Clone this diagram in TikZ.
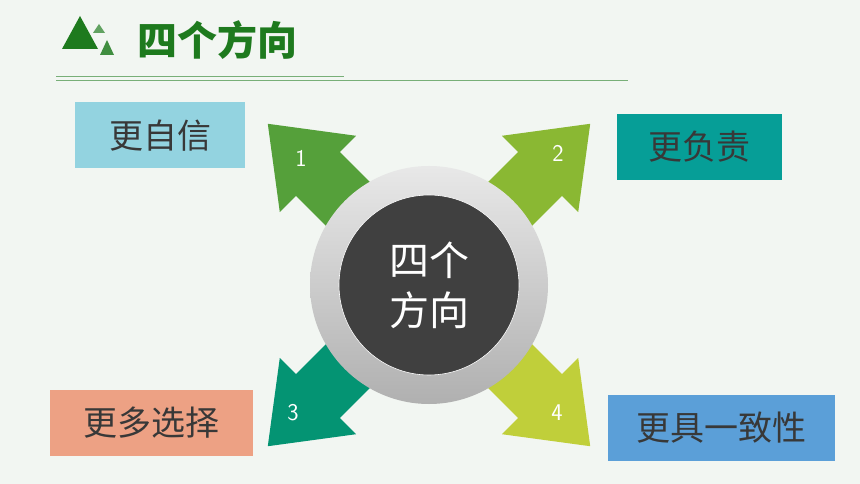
\documentclass[tikz,border=0pt]{standalone}
\usepackage{fontspec}
\newfontfamily\cjk{Noto Sans CJK SC}
\usetikzlibrary{calc}
\definecolor{bg}{HTML}{F2F6F2}
\definecolor{ttl}{HTML}{1E7A1E}
\definecolor{arA}{HTML}{55A03A}
\definecolor{arB}{HTML}{8AB833}
\definecolor{arC}{HTML}{049473}
\definecolor{arD}{HTML}{C0CF3A}
\definecolor{bxA}{HTML}{93D3E0}
\definecolor{bxB}{HTML}{069E97}
\definecolor{bxC}{HTML}{EDA184}
\definecolor{bxD}{HTML}{5B9FD8}
\tikzset{
  tagbox/.style={minimum height=66pt,inner sep=0pt,text=black!78,font=\cjk\fontsize{34}{36}\selectfont},
  numlbl/.style={text=white,font=\fontsize{24}{26}\selectfont\sffamily}
}
\begin{document}
\begin{tikzpicture}[x=1pt,y=-1pt]
\fill[bg] (0,0) rectangle (860,484);
\useasboundingbox (0,0) rectangle (860,484);
% title
\fill[ttl] (62,49) -- (80,16) -- (98,49) -- cycle;
\fill[ttl!70] (93,33) -- (99,24) -- (105,33) -- cycle;
\fill[ttl!85] (100,55) -- (107,40) -- (114,55) -- cycle;
\node[anchor=west,text=ttl,font=\cjk\bfseries\fontsize{40}{42}\selectfont] (title) at (134,40) {四个方向};
\draw[ttl!60,line width=0.8pt] (56,76) -- (344,76);
\draw[ttl!60,line width=0.8pt] (56,80) -- (628,80);
% arrows
\coordinate (c) at (429,285);
\foreach \ang/\col/\num [count=\i] in {225/arA/1,315/arB/2,135/arC/3,45/arD/4}{
  \fill[\col] ($(c)+(\ang:228)$)
    -- ($(c)+(\ang:157)+(\ang+90:54)$) -- ($(c)+(\ang:157)+(\ang+90:31)$)
    -- ($(c)+(\ang:60)+(\ang+90:31)$) -- ($(c)+(\ang:60)+(\ang-90:31)$)
    -- ($(c)+(\ang:157)+(\ang-90:31)$) -- ($(c)+(\ang:157)+(\ang-90:54)$) -- cycle;
}
\node[numlbl] (n1) at (301,158) {1};
\node[numlbl] (n2) at (558,153) {2};
\node[numlbl] (n3) at (293,413) {3};
\node[numlbl] (n4) at (557,413) {4};
% centre
\shade[top color=gray!18,bottom color=gray!62] (c) circle (119);
\fill[black!75,draw=white,line width=0.6pt] (c) circle (90);
\node[text=white,align=center,font=\cjk\fontsize{40}{50}\selectfont] (hub) at (c) {四个\\方向};
% boxes
\node[tagbox,fill=bxA,minimum width=170pt] (b1) at (160,135.5) {更自信};
\node[tagbox,fill=bxB,minimum width=165pt] (b2) at (699.5,147) {更负责};
\node[tagbox,fill=bxC,minimum width=203pt] (b3) at (151.5,423) {更多选择};
\node[tagbox,fill=bxD,minimum width=227pt] (b4) at (721.5,427.5) {更具一致性};
\end{tikzpicture}
\end{document}
